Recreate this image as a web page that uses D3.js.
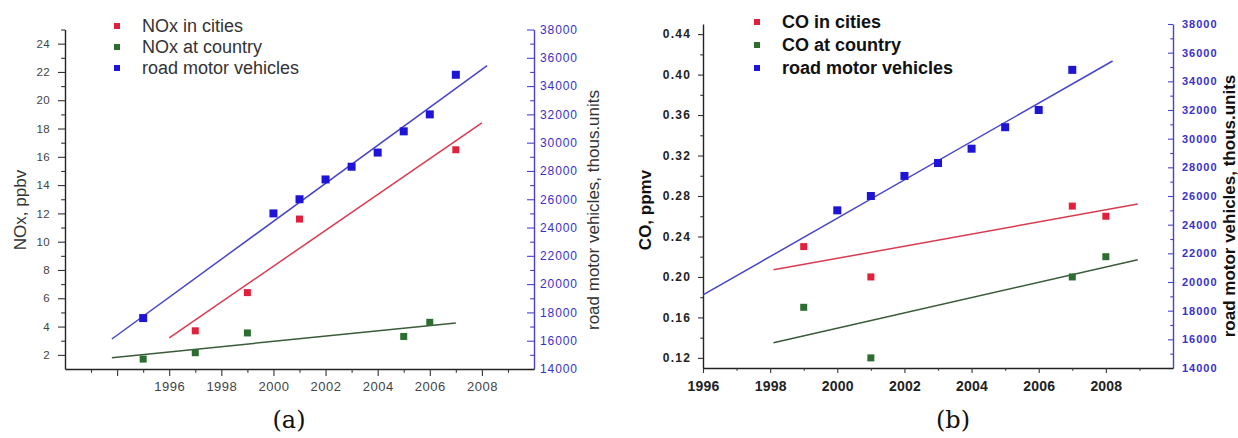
<!DOCTYPE html>
<html><head><meta charset="utf-8">
<script src="https://cdn.jsdelivr.net/npm/d3@7"></script>
<style>
html,body{margin:0;padding:0;background:#fff;}
svg{display:block;font-family:"Liberation Sans",Arial,sans-serif;}
</style></head><body>
<svg id="chart" width="1238" height="438"></svg>
<script>
// ---------- Panel (a): NOx ----------
const noxCityYears = [1997, 1999, 2001, 2007];
const noxCity = [3.7, 6.4, 11.6, 16.5];
const noxCountryYears = [1995, 1997, 1999, 2005, 2006];
const noxCountry = [1.7, 2.15, 3.55, 3.3, 4.3];
const vehicleYears = [1995, 2000, 2001, 2002, 2003, 2004, 2005, 2006, 2007];
const vehicles = [17600, 25000, 26000, 27400, 28300, 29300, 30800, 32000, 34800];
const noxCityFitYears = [1996, 2008];
const noxCityFit = [3.2, 18.4];
const noxCountryFitYears = [1993.8, 2007];
const noxCountryFit = [1.8, 4.25];
const vehicleFitYearsA = [1993.8, 2008.2];
const vehicleFitA = [16120, 35450];
// ---------- Panel (b): CO ----------
const coCityYears = [1999, 2001, 2007, 2008];
const coCity = [0.23, 0.20, 0.27, 0.26];
const coCountryYears = [1999, 2001, 2007, 2008];
const coCountry = [0.17, 0.12, 0.20, 0.22];
const coCityFitYears = [1998.1, 2008.95];
const coCityFit = [0.207, 0.272];
const coCountryFitYears = [1998.1, 2008.95];
const coCountryFit = [0.135, 0.217];
const vehicleFitYearsB = [1996, 2008.2];
const vehicleFitB = [19100, 35420];
// ---------- ticks & labels ----------
const noxTicks = [2, 4, 6, 8, 10, 12, 14, 16, 18, 20, 22, 24];
const noxMinorTicks = [3, 5, 7, 9, 11, 13, 15, 17, 19, 21, 23, 25];
const coTicks = [0.12, 0.16, 0.20, 0.24, 0.28, 0.32, 0.36, 0.40, 0.44];
const coMinorTicks = [0.14, 0.18, 0.22, 0.26, 0.30, 0.34, 0.38, 0.42];
const vehicleTicks = [14000, 16000, 18000, 20000, 22000, 24000, 26000, 28000, 30000, 32000, 34000, 36000, 38000];
const vehicleMinorTicks = [15000, 17000, 19000, 21000, 23000, 25000, 27000, 29000, 31000, 33000, 35000, 37000];
const yearTicksA = [1994, 1996, 1998, 2000, 2002, 2004, 2006, 2008];
const yearLabelsA = ["", "1996", "1998", "2000", "2002", "2004", "2006", "2008"];
const yearMinorTicksA = [1993, 1995, 1997, 1999, 2001, 2003, 2005, 2007, 2009];
const yearTicksB = [1996, 1998, 2000, 2002, 2004, 2006, 2008];
const yearLabelsB = ["1996", "1998", "2000", "2002", "2004", "2006", "2008"];
const yearMinorTicksB = [1997, 1999, 2001, 2003, 2005, 2007, 2009];
const legendA = ["NOx in cities", "NOx at country", "road motor vehicles"];
const legendB = ["CO in cities", "CO at country", "road motor vehicles"];

const RED = "#e2203c", GREEN = "#2c6e30", BLUE = "#1e14d6";
const RED_LINE = "#d83a50", GREEN_LINE = "#3a5a3a", BLUE_LINE = "#4844c8";
const AXIS_BLUE = "#4a40d0", LABEL_BLUE = "#3a30c8";

const svg = d3.select("#chart");
const zip = (xs, ys) => xs.map((x, i) => [x, ys[i]]);

function panel(o) {
  const g = svg.append("g").style("font-weight", o.bold ? "bold" : "normal");
  const x = d3.scaleLinear().domain(o.xDomain).range([o.x0, o.x1]);
  const y = d3.scaleLinear().domain(o.yDomain).range([o.y1, o.y0]);
  const y2 = d3.scaleLinear().domain([14000, 38000]).range([o.y1, o.y0]);

  // left axis
  const la = g.append("g").attr("transform", `translate(${o.x0},0)`)
    .call(d3.axisLeft(y).tickValues(o.yTicks).tickFormat(o.yFmt).tickSizeInner(o.tickL).tickSizeOuter(0).tickPadding(o.padL));
  g.append("g").attr("transform", `translate(${o.x0},0)`)
    .call(d3.axisLeft(y).tickValues(o.yMinor).tickFormat("").tickSizeInner(o.tickL * 0.55).tickSizeOuter(0))
    .select(".domain").remove();
  // right axis (inward ticks)
  const ra = g.append("g").attr("transform", `translate(${o.x1},0)`)
    .call(d3.axisRight(y2).tickValues(vehicleTicks).tickFormat(d3.format("d")).tickSizeInner(-o.tickL).tickSizeOuter(0).tickPadding(o.padR));
  const rm = g.append("g").attr("transform", `translate(${o.x1},0)`)
    .call(d3.axisRight(y2).tickValues(vehicleMinorTicks).tickFormat("").tickSizeInner(-o.tickL * 0.55).tickSizeOuter(0));
  rm.select(".domain").remove();
  // bottom axis
  const ba = g.append("g").attr("transform", `translate(0,${o.y1})`)
    .call(d3.axisBottom(x).tickValues(o.xTicks).tickFormat((d, i) => o.xLabels[i]).tickSizeInner(o.tickL).tickSizeOuter(0).tickPadding(o.padB));
  g.append("g").attr("transform", `translate(0,${o.y1})`)
    .call(d3.axisBottom(x).tickValues(o.xMinor).tickFormat("").tickSizeInner(o.tickL * 0.55).tickSizeOuter(0))
    .select(".domain").remove();

  g.selectAll(".domain").attr("stroke", "#222").attr("stroke-width", 1.4);
  g.selectAll(".tick line").attr("stroke", "#333").attr("stroke-width", 1.1);
  ra.select(".domain").attr("stroke", AXIS_BLUE).attr("stroke-width", 1.4);
  ra.selectAll(".tick line").attr("stroke", AXIS_BLUE);
  rm.selectAll(".tick line").attr("stroke", AXIS_BLUE);

  la.selectAll("text").attr("font-size", o.fsY).attr("letter-spacing", o.lsY).attr("fill", o.textCol)
    .attr("font-family", "Liberation Sans, Arial, sans-serif");
  ra.selectAll("text").attr("font-size", o.fsR).attr("letter-spacing", o.lsR).attr("fill", LABEL_BLUE)
    .attr("font-family", "Liberation Sans, Arial, sans-serif");
  ba.selectAll("text").attr("font-size", o.fsX).attr("letter-spacing", o.lsX).attr("fill", o.textCol)
    .attr("font-family", "Liberation Sans, Arial, sans-serif");

  // fit lines
  const line = d3.line().x(d => x(d[0]));
  const fits = [
    [zip(o.vFitYears, o.vFit), BLUE_LINE, y2],
    [zip(o.cityFitYears, o.cityFit), RED_LINE, y],
    [zip(o.countryFitYears, o.countryFit), GREEN_LINE, y]
  ];
  fits.forEach(([data, col, sc]) => {
    g.append("path").datum(data).attr("fill", "none").attr("stroke", col).attr("stroke-width", 1.5)
      .attr("d", line.y(d => sc(d[1])));
  });

  // points
  const pts = [
    [zip(o.cityYears, o.city), RED, y, 7],
    [zip(o.countryYears, o.country), GREEN, y, 7],
    [zip(vehicleYears, vehicles).filter(d => d[0] >= o.xDomain[0]), BLUE, y2, 8]
  ];
  pts.forEach(([data, col, sc, s]) => {
    g.selectAll(null).data(data).enter().append("rect")
      .attr("x", d => x(d[0]) - s / 2).attr("y", d => sc(d[1]) - s / 2)
      .attr("width", s).attr("height", s).attr("fill", col);
  });

  // legend
  const lcols = [RED, GREEN, BLUE];
  o.legend.forEach((t, i) => {
    const ly = o.legY + i * o.legStep;
    g.append("rect").attr("x", o.legX - 3).attr("y", ly - 3).attr("width", 6).attr("height", 6).attr("fill", lcols[i]);
    g.append("text").attr("x", o.legTx).attr("y", ly).attr("dy", "0.35em")
      .attr("font-size", o.fsLeg).attr("fill", o.legCol).text(t);
  });

  // axis titles
  g.append("text").attr("transform", `translate(${o.ttlLx},${o.ttlLy}) rotate(-90)`)
    .attr("text-anchor", "middle").attr("font-size", o.fsTtl).attr("fill", o.legCol).text(o.yTitle);
  g.append("text").attr("transform", `translate(${o.ttlRx},${o.ttlRy}) rotate(-90)`)
    .attr("text-anchor", "middle").attr("font-size", o.fsTtl).attr("fill", o.legCol).text("road motor vehicles, thous.units");

  // panel label
  svg.append("text").attr("x", o.tagX).attr("y", 428).attr("text-anchor", "middle")
    .attr("font-family", "'DejaVu Serif', 'Liberation Serif', serif").attr("font-size", 24).attr("fill", "#111").text(o.tag);
}

panel({
  bold: false, x0: 65, x1: 534, y0: 29.5, y1: 369,
  xDomain: [1992, 2010], yDomain: [1, 25],
  yTicks: noxTicks, yMinor: noxMinorTicks, yFmt: d3.format("d"),
  xTicks: yearTicksA, xLabels: yearLabelsA, xMinor: yearMinorTicksA,
  tickL: 7, padL: 8, padR: 6, padB: 6,
  fsY: 11.5, lsY: 0.4, fsR: 12, lsR: 0.9, fsX: 13, lsX: 0.5, textCol: "#444",
  cityYears: noxCityYears, city: noxCity, countryYears: noxCountryYears, country: noxCountry,
  cityFitYears: noxCityFitYears, cityFit: noxCityFit,
  countryFitYears: noxCountryFitYears, countryFit: noxCountryFit,
  vFitYears: vehicleFitYearsA, vFit: vehicleFitA,
  legend: legendA, legX: 117, legTx: 142, legY: 26, legStep: 21, fsLeg: 18, legCol: "#333",
  yTitle: "NOx, ppbv", ttlLx: 26, ttlLy: 210, ttlRx: 599, ttlRy: 210, fsTtl: 17,
  tag: "(a)", tagX: 289
});

panel({
  bold: true, x0: 703, x1: 1173, y0: 24, y1: 368,
  xDomain: [1996, 2010], yDomain: [0.11, 0.45],
  yTicks: coTicks, yMinor: coMinorTicks, yFmt: d3.format(".2f"),
  xTicks: yearTicksB, xLabels: yearLabelsB, xMinor: yearMinorTicksB,
  tickL: 5, padL: 7, padR: 9, padB: 8,
  fsY: 12, lsY: 1.2, fsR: 11, lsR: 1, fsX: 14, lsX: 0.2, textCol: "#222",
  cityYears: coCityYears, city: coCity, countryYears: coCountryYears, country: coCountry,
  cityFitYears: coCityFitYears, cityFit: coCityFit,
  countryFitYears: coCountryFitYears, countryFit: coCountryFit,
  vFitYears: vehicleFitYearsB, vFit: vehicleFitB,
  legend: legendB, legX: 757, legTx: 782, legY: 22, legStep: 23, fsLeg: 18, legCol: "#111",
  yTitle: "CO, ppmv", ttlLx: 651, ttlLy: 210, ttlRx: 1235, ttlRy: 206, fsTtl: 17,
  tag: "(b)", tagX: 953
});
</script>
</body></html>
